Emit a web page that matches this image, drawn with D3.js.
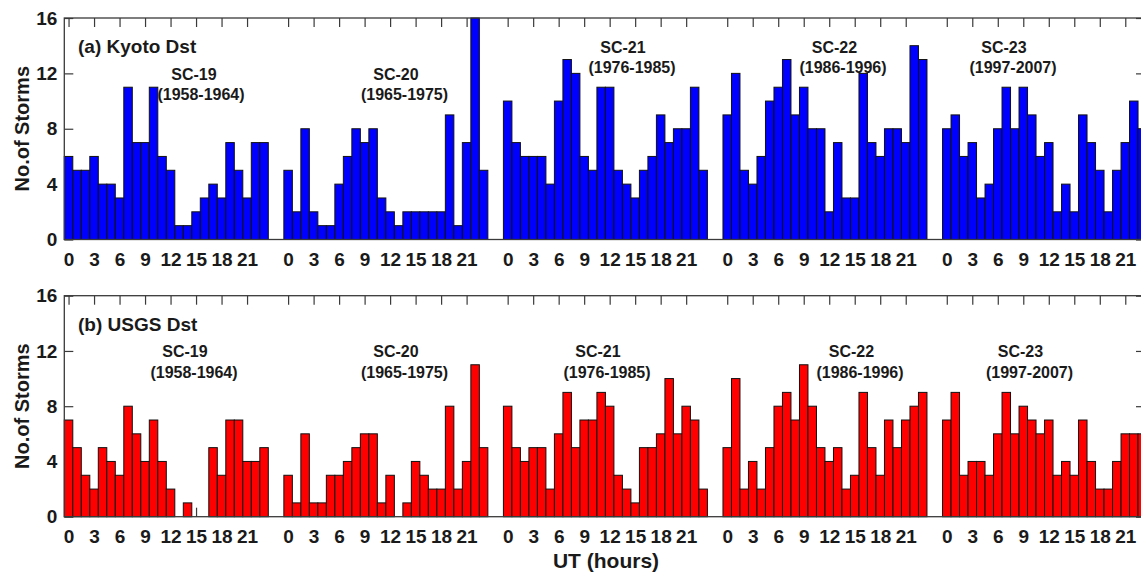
<!DOCTYPE html>
<html>
<head>
<meta charset="utf-8">
<script src="https://cdn.jsdelivr.net/npm/d3@7"></script>
<style>
  html, body { margin: 0; padding: 0; background: #fff; }
  svg { display: block; }
  text { font-family: "Liberation Sans", Arial, sans-serif; font-weight: bold; fill: #1a1a1a; }
</style>
</head>
<body>
<svg id="chart" width="1141" height="577"></svg>
<script>
// Storm counts per UT hour (0-23) for solar cycles 19-23
const hours = d3.range(24);
const hourTicks = [0, 3, 6, 9, 12, 15, 18, 21];
const cycles = ["SC-19", "SC-20", "SC-21", "SC-22", "SC-23"];
const cycleYears = ["(1958-1964)", "(1965-1975)", "(1976-1985)", "(1986-1996)", "(1997-2007)"];
const yTicks = [0, 4, 8, 12, 16];

const kyotoSC19 = [6, 5, 5, 6, 4, 4, 3, 11, 7, 7, 11, 6, 5, 1, 1, 2, 3, 4, 3, 7, 5, 3, 7, 7];
const kyotoSC20 = [5, 2, 8, 2, 1, 1, 4, 6, 8, 7, 8, 3, 2, 1, 2, 2, 2, 2, 2, 9, 1, 7, 16, 5];
const kyotoSC21 = [10, 7, 6, 6, 6, 4, 10, 13, 12, 6, 5, 11, 11, 5, 4, 3, 5, 6, 9, 7, 8, 8, 11, 5];
const kyotoSC22 = [9, 12, 5, 4, 6, 10, 11, 13, 9, 11, 8, 8, 2, 7, 3, 3, 12, 7, 6, 8, 8, 7, 14, 13];
const kyotoSC23 = [8, 9, 6, 7, 3, 4, 8, 11, 8, 11, 9, 6, 7, 2, 4, 2, 9, 7, 5, 2, 5, 7, 10, 8];

const usgsSC19 = [7, 5, 3, 2, 5, 4, 3, 8, 6, 4, 7, 4, 2, 0, 1, 0, 0, 5, 3, 7, 7, 4, 4, 5];
const usgsSC20 = [3, 1, 6, 1, 1, 3, 3, 4, 5, 6, 6, 1, 3, 0, 1, 4, 3, 2, 2, 8, 2, 4, 11, 5];
const usgsSC21 = [8, 5, 4, 5, 5, 2, 6, 9, 5, 7, 7, 9, 8, 3, 2, 1, 5, 5, 6, 10, 6, 8, 7, 2];
const usgsSC22 = [5, 10, 2, 4, 2, 5, 8, 9, 7, 11, 8, 5, 4, 5, 2, 3, 9, 5, 3, 7, 5, 7, 8, 9];
const usgsSC23 = [7, 9, 3, 4, 4, 3, 6, 9, 6, 8, 7, 6, 7, 3, 4, 3, 7, 4, 2, 2, 4, 6, 6, 6];

const panels = [
  {
    label: "(a) Kyoto Dst", fill: "#0000ff",
    series: [kyotoSC19, kyotoSC20, kyotoSC21, kyotoSC22, kyotoSC23],
    top: 18, bottom: 239.5,
    notes: [[194, 80, 201, 100], [396, 80, 404.5, 100], [623, 53, 632, 73], [834.5, 53, 843, 73], [1004, 53, 1013, 73]]
  },
  {
    label: "(b) USGS Dst", fill: "#ff0000",
    series: [usgsSC19, usgsSC20, usgsSC21, usgsSC22, usgsSC23],
    top: 295.7, bottom: 516.7,
    notes: [[185, 357, 194, 378], [396, 357, 404.5, 378], [598, 357, 607, 378], [851.5, 357, 860, 378], [1020.5, 357, 1029.5, 378]]
  }
];

// Horizontal layout: one unit = one hourly bar; each cycle block is offset by a fixed stride
const groupStride = 25.83;
const left = 64.3, right = 1145;
const x = d3.scaleLinear().domain([0, 127.14]).range([left, right]);
const barW = x(1) - x(0);

const svg = d3.select("#chart");
const frameColor = "#3a3a3a";
const tickLen = 9;

const tickPositions = [];
cycles.forEach((c, g) => hourTicks.forEach(h => tickPositions.push(g * groupStride + h + 0.5)));

panels.forEach(p => {
  const y = d3.scaleLinear().domain([0, 16]).range([p.bottom, p.top]);
  const gp = svg.append("g");

  // axes (inward ticks)
  const xb = d3.axisBottom(x).tickValues(tickPositions)
    .tickFormat((d, i) => hourTicks[i % hourTicks.length])
    .tickSizeInner(-tickLen).tickSizeOuter(0).tickPadding(13);
  const xt = d3.axisTop(x).tickValues(tickPositions).tickFormat("")
    .tickSizeInner(-tickLen).tickSizeOuter(0);
  const yl = d3.axisLeft(y).tickValues(yTicks).tickSizeInner(-tickLen).tickSizeOuter(0).tickPadding(7);
  const yr = d3.axisRight(y).tickValues(yTicks).tickFormat("").tickSizeInner(-tickLen).tickSizeOuter(0);

  const axes = [
    gp.append("g").attr("transform", `translate(0,${p.bottom})`).call(xb),
    gp.append("g").attr("transform", `translate(0,${p.top})`).call(xt),
    gp.append("g").attr("transform", `translate(${left},0)`).call(yl),
    gp.append("g").attr("transform", `translate(${right},0)`).call(yr)
  ];
  axes.forEach(a => {
    a.attr("font-family", null).attr("font-size", null);
    a.select(".domain").remove();
    a.selectAll(".tick line").attr("stroke", frameColor).attr("stroke-width", 1.2);
    a.selectAll(".tick text").style("font-size", "19px").attr("fill", "#1a1a1a");
  });

  // bars
  p.series.forEach((vals, g) => {
    gp.append("g").selectAll("rect")
      .data(hours.filter(h => vals[h] > 0))
      .join("rect")
      .attr("x", h => x(g * groupStride + h))
      .attr("width", barW)
      .attr("y", h => y(vals[h]))
      .attr("height", h => y(0) - y(vals[h]))
      .attr("fill", p.fill)
      .attr("stroke", "#111")
      .attr("stroke-width", 1);
  });

  // frame
  gp.append("rect")
    .attr("x", left).attr("y", p.top)
    .attr("width", right - left).attr("height", p.bottom - p.top)
    .attr("fill", "none").attr("stroke", frameColor).attr("stroke-width", 1.3);

  // panel label
  gp.append("text").attr("x", 78).attr("y", p.top + 35.3)
    .style("font-size", "19px").text(p.label);

  // cycle annotations
  p.notes.forEach((n, i) => {
    gp.append("text").attr("x", n[0]).attr("y", n[1]).attr("text-anchor", "middle")
      .style("font-size", "16px").text(cycles[i]);
    gp.append("text").attr("x", n[2]).attr("y", n[3]).attr("text-anchor", "middle")
      .style("font-size", "16px").text(cycleYears[i]);
  });

  // y-axis title
  gp.append("text")
    .attr("transform", `translate(29,${(p.top + p.bottom) / 2}) rotate(-90)`)
    .attr("text-anchor", "middle")
    .style("font-size", "20px").text("No.of Storms");
});

svg.append("text").attr("x", 606).attr("y", 568).attr("text-anchor", "middle")
  .style("font-size", "21px").text("UT (hours)");
</script>
</body>
</html>
